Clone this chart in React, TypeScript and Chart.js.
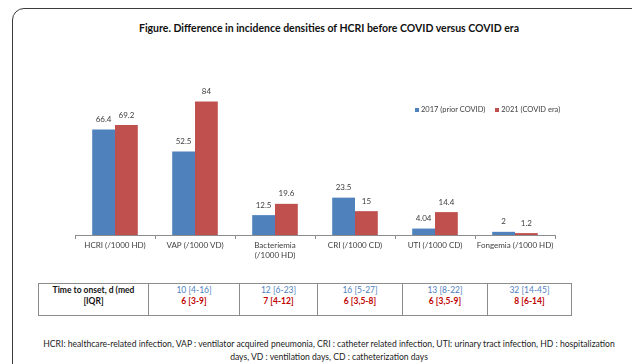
import React, { useEffect, useRef } from "react";
import { Chart, registerables } from "chart.js";
Chart.register(...registerables);

const TITLE = "Figure. Difference in incidence densities of HCRI before COVID versus COVID era";
const categories: (string | string[])[] = [
  "HCRI (/1000 HD)",
  "VAP (/1000 VD)",
  ["Bacteriemia", "(/1000 HD)"],
  "CRI (/1000 CD)",
  "UTI (/1000 CD)",
  "Fongemia (/1000 HD)",
];
const seriesNames = ["2017 (prior COVID)", "2021 (COVID era)"];
const values2017 = [66.4, 52.5, 12.5, 23.5, 4.04, 2];
const values2021 = [69.2, 84, 19.6, 15, 14.4, 1.2];
const valueLabels2017 = ["66.4", "52.5", "12.5", "23.5", "4.04", "2"];
const valueLabels2021 = ["69.2", "84", "19.6", "15", "14.4", "1.2"];
const tableRowHeader = ["Time to onset, d (med", "[IQR]"];
const onset2017 = ["10 [4-16]", "12 [6-23]", "16 [5-27]", "13 [8-22]", "32 [14-45]"];
const onset2021 = ["6 [3-9]", "7 [4-12]", "6 [3,5-8]", "6 [3,5-9]", "8 [6-14]"];
const footnoteLine1 =
  "HCRI: healthcare-related infection, VAP : ventilator acquired pneumonia, CRI : catheter related infection, UTI: urinary tract infection, HD : hospitalization";
const footnoteLine2 = "days, VD : ventilation days, CD : catheterization days";

const BLUE = "#4f81bd";
const RED = "#c0504d";
const FONT = "Lato, 'Open Sans', sans-serif";

const valueLabelPlugin = {
  id: "valueLabels",
  afterDatasetsDraw(chart: any) {
    const ctx = chart.ctx;
    ctx.save();
    ctx.font = "8px " + FONT;
    ctx.fillStyle = "#404040";
    ctx.textAlign = "center";
    ctx.textBaseline = "middle";
    chart.data.datasets.forEach((ds: any, i: number) => {
      const meta = chart.getDatasetMeta(i);
      const labels = i === 0 ? valueLabels2017 : valueLabels2021;
      meta.data.forEach((bar: any, j: number) => {
        ctx.fillText(labels[j], bar.x, bar.y - 10);
      });
    });
    ctx.restore();
  },
};

// table column boundaries (page x)
const colEdges = [38, 148, 239, 317, 402, 487, 571];
const TABLE_TOP = 283;
const TABLE_H = 33;

const lineStyle: React.CSSProperties = { whiteSpace: "nowrap", height: 11, lineHeight: "11px" };

export default function App() {
  const ref = useRef<HTMLCanvasElement | null>(null);
  useEffect(() => {
    if (!ref.current) return;
    const chart = new Chart(ref.current, {
      type: "bar",
      data: {
        labels: categories,
        datasets: [
          { label: seriesNames[0], data: values2017, backgroundColor: BLUE, categoryPercentage: 0.57, barPercentage: 1 },
          { label: seriesNames[1], data: values2021, backgroundColor: RED, categoryPercentage: 0.57, barPercentage: 1 },
        ],
      },
      options: {
        responsive: false,
        animation: false,
        devicePixelRatio: 1,
        layout: { padding: { left: 75, right: 77, top: 76, bottom: 0 } },
        plugins: { legend: { display: false }, tooltip: { enabled: false }, title: { display: false } },
        scales: {
          x: {
            afterFit: (s: any) => {
              s.height = 45;
            },
            grid: { offset: true, drawOnChartArea: false, drawTicks: true, tickLength: 4, color: "#8c8c8c" },
            border: { display: true, color: "#8c8c8c" },
            ticks: { font: { size: 8, family: FONT }, color: "#404040", padding: 2, maxRotation: 0, autoSkip: false },
          },
          y: { display: false, min: 0, max: 100 },
        },
      },
      plugins: [valueLabelPlugin],
    } as any);
    return () => chart.destroy();
  }, []);

  const cells: React.ReactNode[] = [];
  for (let i = 0; i < colEdges.length - 1; i++) {
    const left = colEdges[i];
    const width = colEdges[i + 1] - colEdges[i];
    const content =
      i === 0 ? (
        <>
          <div style={{ ...lineStyle, fontWeight: 700, color: "#111" }}>{tableRowHeader[0]}</div>
          <div style={{ ...lineStyle, fontWeight: 700, color: "#111" }}>{tableRowHeader[1]}</div>
        </>
      ) : (
        <>
          <div style={{ ...lineStyle, color: BLUE }}>{onset2017[i - 1]}</div>
          <div style={{ ...lineStyle, color: "#c00000", fontWeight: 700 }}>{onset2021[i - 1]}</div>
        </>
      );
    cells.push(
      <div
        key={i}
        style={{
          position: "absolute",
          left,
          top: TABLE_TOP,
          width: width + 1,
          height: TABLE_H,
          boxSizing: "border-box",
          border: "1px solid #8c8c8c",
          fontSize: 8.5,
          paddingTop: 1,
          display: "flex",
          flexDirection: "column",
          alignItems: "center",
        }}
      >
        {content}
      </div>
    );
  }

  return (
    <div style={{ position: "absolute", left: 0, top: 0, width: 632, height: 364, overflow: "hidden", background: "#fff", fontFamily: FONT }}>
      <div style={{ position: "absolute", left: 12, top: 8, width: 640, height: 420, border: "1.5px solid #3a3a3a", borderRadius: 12, boxSizing: "border-box" }} />
      <div style={{ position: "absolute", left: 0, top: 22, width: 658, textAlign: "center", fontWeight: 700, fontSize: 10.5, color: "#111" }}>{TITLE}</div>
      <canvas ref={ref} width={632} height={280} style={{ position: "absolute", left: 0, top: 0 }} />
      <div style={{ position: "absolute", left: 415, top: 105, fontSize: 7.5, color: "#404040", display: "flex", gap: 10, whiteSpace: "nowrap" }}>
        <span style={{ display: "flex", alignItems: "center" }}>
          <span style={{ width: 4, height: 4, background: BLUE, marginRight: 2 }} />
          {seriesNames[0]}
        </span>
        <span style={{ display: "flex", alignItems: "center" }}>
          <span style={{ width: 4, height: 4, background: RED, marginRight: 2 }} />
          {seriesNames[1]}
        </span>
      </div>
      {cells}
      <div style={{ position: "absolute", left: 29, top: 338, width: 600, textAlign: "center", fontSize: 8.6, lineHeight: "13px", color: "#222", whiteSpace: "nowrap" }}>
        {footnoteLine1}
        <br />
        {footnoteLine2}
      </div>
    </div>
  );
}
